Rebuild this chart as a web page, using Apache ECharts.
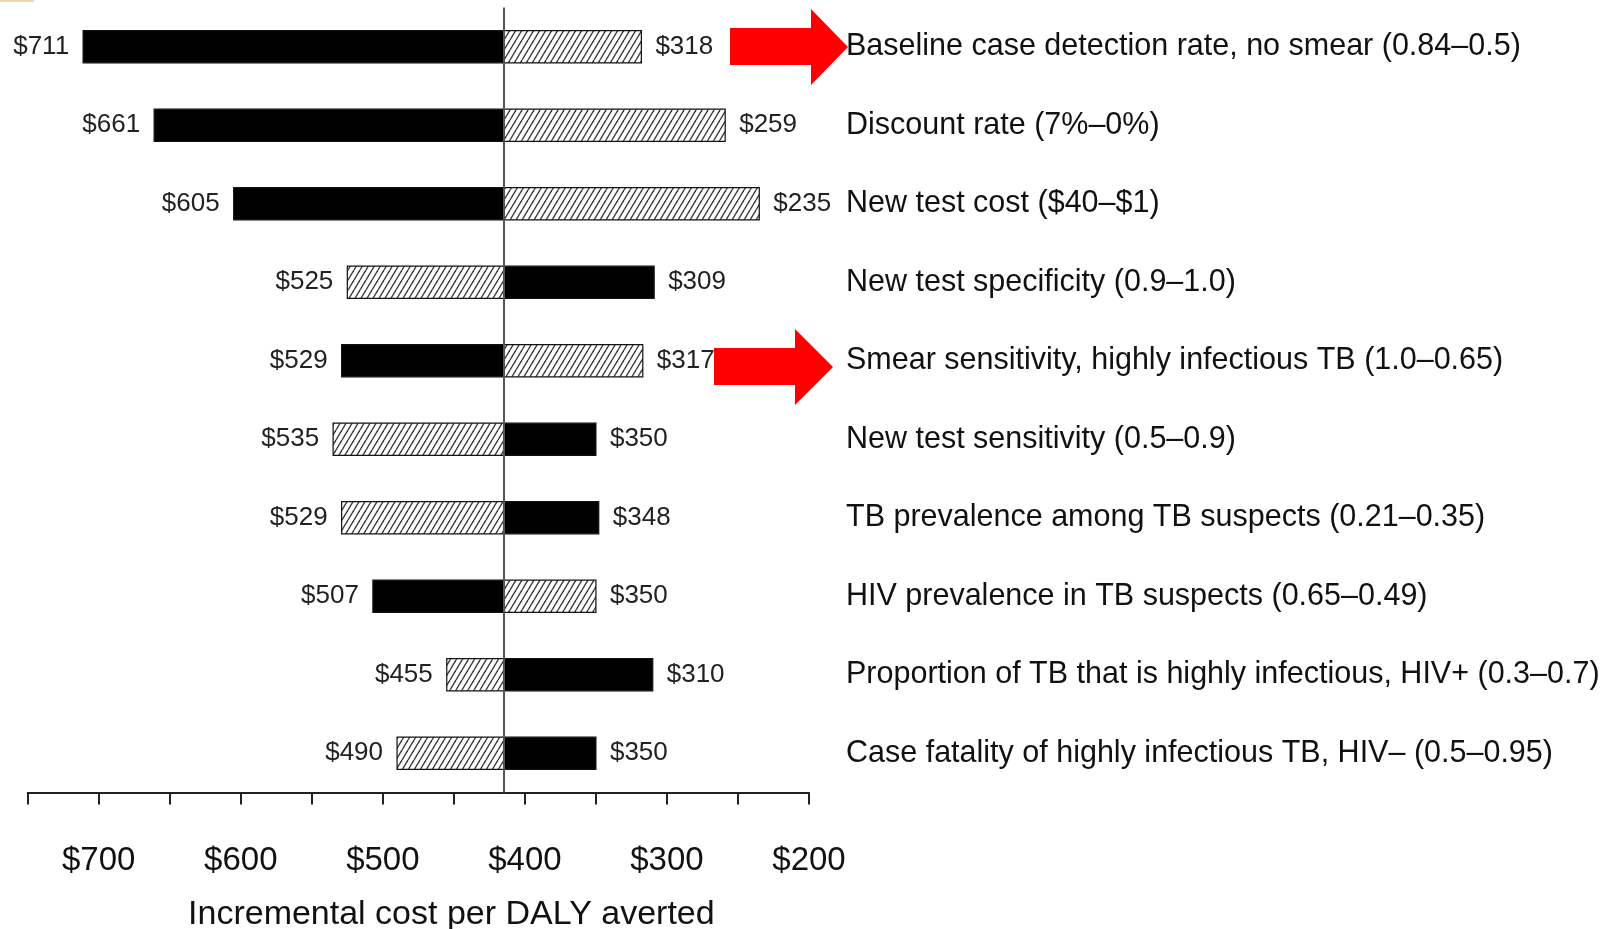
<!DOCTYPE html>
<html>
<head>
<meta charset="utf-8">
<title>Incremental cost per DALY averted</title>
<script src="https://cdn.jsdelivr.net/npm/echarts@6/dist/echarts.min.js"></script>
<style>
html, body { margin: 0; padding: 0; background: #fff; }
#chart { width: 1608px; height: 929px; }
</style>
</head>
<body>
<div id="chart"></div>
<script>
const categories = [
  'Baseline case detection rate, no smear (0.84–0.5)',
  'Discount rate (7%–0%)',
  'New test cost ($40–$1)',
  'New test specificity (0.9–1.0)',
  'Smear sensitivity, highly infectious TB (1.0–0.65)',
  'New test sensitivity (0.5–0.9)',
  'TB prevalence among TB suspects (0.21–0.35)',
  'HIV prevalence in TB suspects (0.65–0.49)',
  'Proportion of TB that is highly infectious, HIV+ (0.3–0.7)',
  'Case fatality of highly infectious TB, HIV– (0.5–0.95)'
]
const baseCost = 415
const leftCost = [711, 661, 605, 525, 529, 535, 529, 507, 455, 490]
const rightCost = [318, 259, 235, 309, 317, 350, 348, 350, 310, 350]
// side of each row that carries the solid black bar
const blackSide = ['left', 'left', 'left', 'right', 'left', 'right', 'right', 'left', 'right', 'right']
const tickValues = [700, 600, 500, 400, 300, 200]

const FONT = 'Liberation Sans'

function makeHatch() {
  const c = document.createElement('canvas')
  c.width = 6
  c.height = 10
  const ctx = c.getContext('2d')
  ctx.fillStyle = '#fff'
  ctx.fillRect(0, 0, 6, 10)
  ctx.strokeStyle = '#333'
  ctx.lineWidth = 1.3
  for (const dx of [-6, 0, 6]) {
    ctx.beginPath()
    ctx.moveTo(dx, 10)
    ctx.lineTo(dx + 6, 0)
    ctx.stroke()
  }
  return c
}
const hatch = { image: makeHatch(), repeat: 'repeat' }

function sideSeries(name, values, side) {
  return {
    type: 'custom',
    name: name,
    data: values.map((v, i) => [i, v]),
    encode: { x: 1, y: 0 },
    renderItem: (params, api) => {
      const row = api.value(0)
      const v = api.value(1)
      const a = api.coord([baseCost, row])
      const b = api.coord([v, row])
      const h = api.size([0, 1])[1] * 0.41
      const solid = blackSide[row] === side
      return {
        type: 'group',
        children: [
          {
            type: 'rect',
            shape: { x: Math.min(a[0], b[0]), y: a[1] - h / 2, width: Math.abs(b[0] - a[0]), height: h },
            style: { fill: solid ? '#000' : hatch, stroke: '#111', lineWidth: 1.2 }
          },
          {
            type: 'text',
            style: {
              text: '$' + v,
              x: side === 'left' ? b[0] - 14 : b[0] + 14,
              y: a[1],
              align: side === 'left' ? 'right' : 'left',
              verticalAlign: 'middle',
              fontSize: 26,
              fontFamily: FONT,
              fill: '#222'
            }
          }
        ]
      }
    }
  }
}

const chart = echarts.init(document.getElementById('chart'))
const leftSeries = sideSeries('high', leftCost, 'left')
leftSeries.markLine = {
  silent: true,
  symbol: 'none',
  label: { show: false },
  lineStyle: { color: '#555', width: 2, type: 'solid' },
  data: [{ xAxis: baseCost }]
}

chart.setOption({
  animation: false,
  grid: {
    left: 27.7,
    right: 799,
    top: 7.5,
    bottom: 136.5,
    containLabel: false,
    outerBoundsMode: 'none'
  },
  xAxis: {
    type: 'value',
    min: 200,
    max: 750,
    interval: 50,
    inverse: true,
    position: 'bottom',
    axisLine: { show: true, lineStyle: { color: '#222', width: 2 } },
    axisTick: { show: true, length: 12, lineStyle: { color: '#222', width: 2 } },
    splitLine: { show: false },
    axisLabel: {
      margin: 52,
      fontSize: 33,
      fontFamily: FONT,
      color: '#111',
      formatter: v => (tickValues.includes(v) ? '$' + v : '')
    },
    name: 'Incremental cost per DALY averted',
    nameLocation: 'middle',
    nameGap: 105,
    nameTextStyle: { fontSize: 34, fontFamily: FONT, color: '#111', padding: [0, 0, 0, 66] }
  },
  yAxis: {
    type: 'category',
    data: categories,
    inverse: true,
    position: 'right',
    axisLine: { show: false },
    axisTick: { show: false },
    splitLine: { show: false },
    axisLabel: { margin: 37, fontSize: 30.5, fontFamily: FONT, color: '#111', padding: [4, 0, 0, 0] }
  },
  graphic: [
    { type: 'rect', z: 100, shape: { x: 0, y: 0, width: 34, height: 2 }, style: { fill: '#efd9a4' } },
    {
      type: 'polygon', z: 100,
      shape: { points: [[730, 28], [811, 28], [811, 9], [848, 47], [811, 85], [811, 65], [730, 65]] },
      style: { fill: '#ff0000' }
    },
    {
      type: 'polygon', z: 100,
      shape: { points: [[714, 348], [795, 348], [795, 329], [833, 367], [795, 405], [795, 385], [714, 385]] },
      style: { fill: '#ff0000' }
    }
  ],
  series: [leftSeries, sideSeries('low', rightCost, 'right')]
})
</script>
</body>
</html>
